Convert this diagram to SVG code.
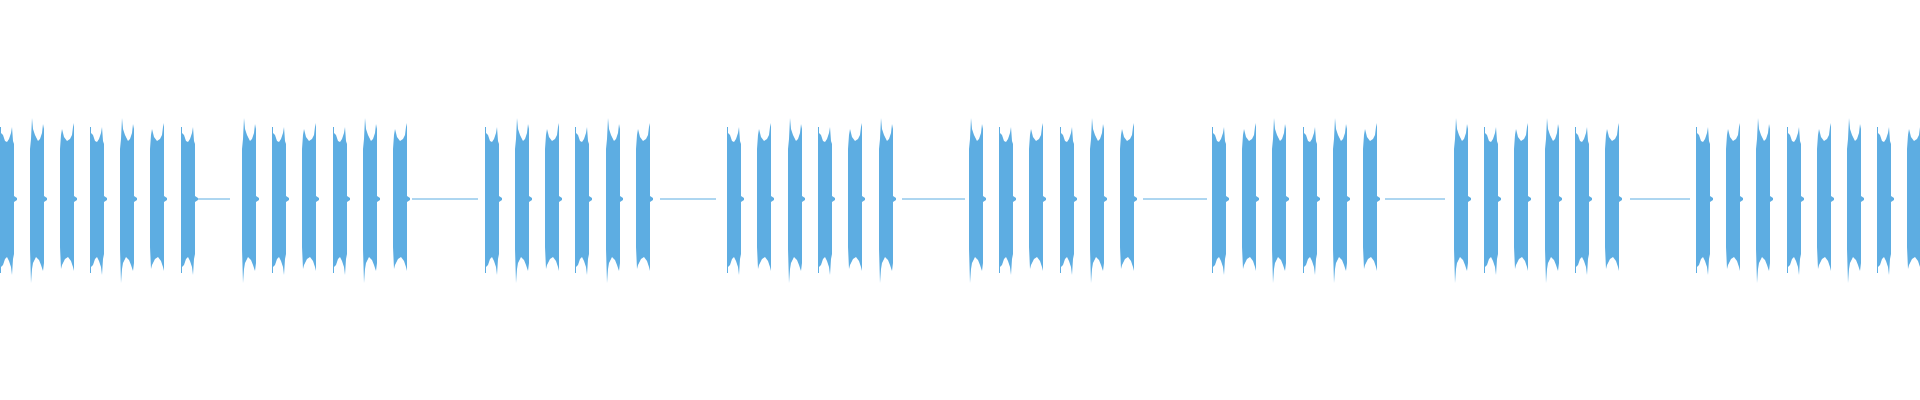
<svg xmlns="http://www.w3.org/2000/svg" width="1920" height="400" viewBox="0 0 1920 400">
<style>.w{fill:#5dade2}.l{stroke:#5dade2;stroke-width:1}</style>
<defs>
<path id="a" d="M0,-72 L1,-72 L1,-66 L3,-64 L5,-58 L7,-57 L9,-60 L11,-66 L12,-72 L13,-58 L14,-55 L14,-3 L17,-1 L17,1 L14,3 L14,55 L13,60 L12,76 L11,68 L9,62 L7,58 L5,60 L3,66 L1,68 L1,74 L0,74 Z"/>
<path id="b" d="M0,-50 L1,-60 L2,-81 L3,-70 L5,-64 L8,-58 L10,-60 L12,-66 L13,-75 L14,-70 L14,-3 L17,-1 L17,1 L14,3 L14,64 L13,72 L11,66 L9,61 L6,58 L3,64 L2,70 L1,84 L0,50 Z"/>
<path id="c" d="M0,-50 L1,-64 L2,-70 L4,-62 L7,-58 L10,-60 L12,-64 L13,-72 L14,-76 L14,-3 L17,-1 L17,1 L14,3 L14,72 L13,68 L11,62 L8,58 L5,60 L2,66 L1,70 L0,48 Z"/>
</defs>
<g class="l">
<line x1="198" y1="199" x2="230" y2="199"/>
<line x1="412" y1="199" x2="478" y2="199"/>
<line x1="660" y1="199" x2="716" y2="199"/>
<line x1="902" y1="199" x2="965" y2="199"/>
<line x1="1143" y1="199" x2="1207" y2="199"/>
<line x1="1385" y1="199" x2="1445" y2="199"/>
<line x1="1630" y1="199" x2="1690" y2="199"/>
</g>
<g class="w">
<use href="#a" transform="translate(0,199)"/><use href="#b" transform="translate(30,199)"/><use href="#c" transform="translate(60,199)"/><use href="#a" transform="translate(90,199)"/><use href="#b" transform="translate(120,199)"/><use href="#c" transform="translate(150,199)"/><use href="#a" transform="translate(181,199)"/>
<use href="#b" transform="translate(242,199)"/><use href="#a" transform="translate(272,199)"/><use href="#c" transform="translate(302,199)"/><use href="#a" transform="translate(333,199)"/><use href="#b" transform="translate(363,199)"/><use href="#c" transform="translate(393,199)"/>
<use href="#a" transform="translate(485,199)"/><use href="#b" transform="translate(515,199)"/><use href="#c" transform="translate(545,199)"/><use href="#a" transform="translate(575,199)"/><use href="#b" transform="translate(606,199)"/><use href="#c" transform="translate(636,199)"/>
<use href="#a" transform="translate(727,199)"/><use href="#c" transform="translate(757,199)"/><use href="#b" transform="translate(788,199)"/><use href="#a" transform="translate(818,199)"/><use href="#c" transform="translate(848,199)"/><use href="#b" transform="translate(879,199)"/>
<use href="#b" transform="translate(969,199)"/><use href="#a" transform="translate(999,199)"/><use href="#c" transform="translate(1029,199)"/><use href="#a" transform="translate(1060,199)"/><use href="#b" transform="translate(1090,199)"/><use href="#c" transform="translate(1120,199)"/>
<use href="#a" transform="translate(1212,199)"/><use href="#c" transform="translate(1242,199)"/><use href="#b" transform="translate(1272,199)"/><use href="#a" transform="translate(1303,199)"/><use href="#b" transform="translate(1333,199)"/><use href="#c" transform="translate(1363,199)"/>
<use href="#b" transform="translate(1454,199)"/><use href="#a" transform="translate(1484,199)"/><use href="#c" transform="translate(1514,199)"/><use href="#b" transform="translate(1545,199)"/><use href="#a" transform="translate(1575,199)"/><use href="#c" transform="translate(1605,199)"/>
<use href="#a" transform="translate(1696,199)"/><use href="#c" transform="translate(1726,199)"/><use href="#b" transform="translate(1756,199)"/><use href="#a" transform="translate(1787,199)"/><use href="#c" transform="translate(1817,199)"/><use href="#b" transform="translate(1847,199)"/><use href="#a" transform="translate(1877,199)"/><use href="#c" transform="translate(1907,199)"/>
</g>
</svg>
